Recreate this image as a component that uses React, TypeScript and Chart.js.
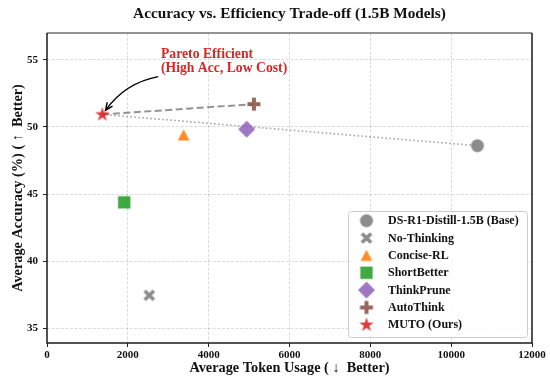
import React, { useEffect, useRef } from 'react';
import { Chart, registerables } from 'chart.js';

Chart.register(...registerables);

// ---------------- data ----------------
const methods = [
  'DS-R1-Distill-1.5B (Base)',
  'No-Thinking',
  'Concise-RL',
  'ShortBetter',
  'ThinkPrune',
  'AutoThink',
  'MUTO (Ours)',
];
const tokenUsage = [10650, 2530, 3380, 1910, 4940, 5120, 1370];
const accuracy = [48.6, 37.45, 49.4, 44.38, 49.83, 51.7, 50.93];
const markerColors = ['#808080', '#808080', '#ff7f0e', '#2ca02c', '#9467bd', '#8c564b', '#d62728'];
const markerShapes = ['circle', 'x', 'triangle', 'square', 'diamond', 'plus', 'star'];

const xTicks = [0, 2000, 4000, 6000, 8000, 10000, 12000];
const yTicks = [35, 40, 45, 50, 55];
const xRange = [0, 12000];
const yRange = [33.9, 57.0];

const paretoPath = ['MUTO (Ours)', 'AutoThink'];
const trendPath = ['MUTO (Ours)', 'DS-R1-Distill-1.5B (Base)'];

const titleText = 'Accuracy vs. Efficiency Trade-off (1.5B Models)';
const xLabel = 'Average Token Usage ( \u2193  Better)';
const yLabel = 'Average Accuracy (%) ( \u2191  Better)';
const annotationLines = ['Pareto Efficient', '(High Acc, Low Cost)'];
const annotationTextPos = [2820, 55.4]; // data coords of first line (left, middle)
const annotationLineStep = 1.05; // data units between lines
const arrowFrom = [2750, 53.75];
const arrowTo = [1450, 51.25];

const SERIF = '"Liberation Serif", "DejaVu Serif", serif';

function makeMarker(shape: string, color: string): HTMLCanvasElement {
  const c = document.createElement('canvas');
  c.width = 24;
  c.height = 24;
  const g = c.getContext('2d')!;
  g.translate(12, 12);
  g.fillStyle = color;
  g.strokeStyle = color;
  g.globalAlpha = 0.9;
  g.beginPath();
  switch (shape) {
    case 'circle':
      g.arc(0, 0, 6.5, 0, Math.PI * 2);
      g.fill();
      break;
    case 'x':
      g.lineWidth = 3.6;
      g.lineCap = 'butt';
      g.moveTo(-4.6, -4.6);
      g.lineTo(4.6, 4.6);
      g.moveTo(4.6, -4.6);
      g.lineTo(-4.6, 4.6);
      g.stroke();
      break;
    case 'triangle':
      g.moveTo(0, -5.8);
      g.lineTo(5.9, 5.6);
      g.lineTo(-5.9, 5.6);
      g.closePath();
      g.fill();
      break;
    case 'square':
      g.rect(-6.2, -6.2, 12.4, 12.4);
      g.fill();
      break;
    case 'diamond':
      g.moveTo(0, -8.5);
      g.lineTo(8.5, 0);
      g.lineTo(0, 8.5);
      g.lineTo(-8.5, 0);
      g.closePath();
      g.fill();
      break;
    case 'plus':
      g.rect(-6.5, -2, 13, 4);
      g.rect(-2, -6.5, 4, 13);
      g.fill();
      break;
    case 'star': {
      const R = 7.6;
      const r = R * 0.382;
      for (let i = 0; i < 10; i++) {
        const rad = i % 2 === 0 ? R : r;
        const a = -Math.PI / 2 + (i * Math.PI) / 5;
        const px = rad * Math.cos(a);
        const py = rad * Math.sin(a);
        if (i === 0) g.moveTo(px, py);
        else g.lineTo(px, py);
      }
      g.closePath();
      g.fill();
      break;
    }
  }
  return c;
}

function pathData(names: string[]) {
  return names.map((n) => {
    const i = methods.indexOf(n);
    return { x: tokenUsage[i], y: accuracy[i] };
  });
}

export default function App() {
  const ref = useRef<HTMLCanvasElement | null>(null);

  useEffect(() => {
    if (!ref.current) return;
    const markers = methods.map((_, i) => makeMarker(markerShapes[i], markerColors[i]));

    const decor = {
      id: 'decor',
      afterDraw(chart: any) {
        const { ctx, chartArea } = chart;
        const xs = chart.scales.x;
        const ys = chart.scales.y;
        const { left, right, top, bottom } = chartArea;
        ctx.save();

        // spines
        ctx.lineWidth = 1.5;
        ctx.strokeStyle = '#6e6e6e';
        ctx.beginPath();
        ctx.moveTo(left, top);
        ctx.lineTo(right, top);
        ctx.stroke();
        ctx.strokeStyle = '#1a1a1a';
        ctx.beginPath();
        ctx.moveTo(left, top);
        ctx.lineTo(left, bottom);
        ctx.lineTo(right, bottom);
        ctx.lineTo(right, top);
        ctx.stroke();

        // title
        ctx.fillStyle = '#111';
        ctx.textAlign = 'center';
        ctx.textBaseline = 'middle';
        ctx.font = `bold 15.3px ${SERIF}`;
        ctx.fillText(titleText, (left + right) / 2, 14);

        // axis labels
        ctx.font = `bold 14.3px ${SERIF}`;
        ctx.fillText(xLabel, (left + right) / 2, 368.5);
        ctx.save();
        ctx.translate(18, (top + bottom) / 2);
        ctx.rotate(-Math.PI / 2);
        ctx.fillText(yLabel, 0, 0);
        ctx.restore();

        // annotation text
        ctx.fillStyle = '#d62728';
        ctx.textAlign = 'left';
        ctx.font = `bold 13.7px ${SERIF}`;
        annotationLines.forEach((t, i) => {
          ctx.fillText(
            t,
            xs.getPixelForValue(annotationTextPos[0]),
            ys.getPixelForValue(annotationTextPos[1] - i * annotationLineStep)
          );
        });

        // curved arrow
        const p0x = xs.getPixelForValue(arrowFrom[0]);
        const p0y = ys.getPixelForValue(arrowFrom[1]);
        const p2x = xs.getPixelForValue(arrowTo[0]);
        const p2y = ys.getPixelForValue(arrowTo[1]);
        const dx = p2x - p0x;
        const dy = p2y - p0y;
        const rad = 0.2;
        const cx = (p0x + p2x) / 2 - rad * dy;
        const cy = (p0y + p2y) / 2 + rad * dx;
        ctx.strokeStyle = '#000';
        ctx.lineWidth = 1.5;
        ctx.beginPath();
        ctx.moveTo(p0x, p0y);
        ctx.quadraticCurveTo(cx, cy, p2x, p2y);
        ctx.stroke();
        const ang = Math.atan2(p2y - cy, p2x - cx);
        const hl = 8;
        const ha = 0.42;
        ctx.beginPath();
        ctx.moveTo(p2x - hl * Math.cos(ang - ha), p2y - hl * Math.sin(ang - ha));
        ctx.lineTo(p2x, p2y);
        ctx.lineTo(p2x - hl * Math.cos(ang + ha), p2y - hl * Math.sin(ang + ha));
        ctx.stroke();

        // legend
        const lw = 179;
        const lh = 126;
        const lx = right - 5 - lw;
        const ly = bottom - 6 - lh;
        ctx.fillStyle = 'rgba(255,255,255,0.85)';
        ctx.strokeStyle = '#cccccc';
        ctx.lineWidth = 1;
        ctx.beginPath();
        (ctx as any).roundRect(lx + 0.5, ly + 0.5, lw, lh, 3);
        ctx.fill();
        ctx.stroke();
        ctx.font = `bold 12px ${SERIF}`;
        ctx.fillStyle = '#111';
        ctx.textAlign = 'left';
        ctx.textBaseline = 'middle';
        methods.forEach((m, i) => {
          const ry = ly + 9.7 + i * 17.35;
          const mk = markers[i];
          ctx.drawImage(mk, lx + 18.5 - mk.width / 2, ry - mk.height / 2);
          ctx.fillText(m, lx + 40, ry + 0.5);
        });

        ctx.restore();
      },
    };

    const lineDs = (names: string[], color: string, dash: number[], width: number) => ({
      type: 'line',
      data: pathData(names),
      showLine: true,
      borderColor: color,
      borderWidth: width,
      borderDash: dash,
      pointRadius: 0,
      fill: false,
      order: 10,
    });

    const gridOpts = (hideEnds: boolean, range: number[]) => ({
      color: (c: any) =>
        hideEnds && c.tick && (c.tick.value === range[0] || c.tick.value === range[1])
          ? 'rgba(0,0,0,0)'
          : 'rgba(0,0,0,0.14)',
      lineWidth: 1,
      tickColor: '#222',
      tickLength: 4,
      tickBorderDash: [],
    });

    const chart = new Chart(ref.current, {
      type: 'scatter',
      data: {
        datasets: [
          lineDs(paretoPath, 'rgba(128,128,128,0.85)', [7, 3.5], 2),
          lineDs(trendPath, 'rgba(150,150,150,0.85)', [1.6, 2.4], 1.6),
          ...methods.map((m, i) => ({
            label: m,
            data: [{ x: tokenUsage[i], y: accuracy[i] }],
            pointStyle: markers[i],
            pointRadius: 8,
            order: 0,
          })),
        ] as any,
      },
      options: {
        responsive: false,
        animation: false,
        devicePixelRatio: 1,
        events: [],
        layout: { padding: { top: 33, right: 18, left: 0, bottom: 0 } },
        plugins: { legend: { display: false }, tooltip: { enabled: false }, title: { display: false } },
        scales: {
          x: {
            type: 'linear',
            min: xRange[0],
            max: xRange[1],
            afterBuildTicks: (s: any) => {
              s.ticks = xTicks.map((v) => ({ value: v }));
            },
            afterFit: (s: any) => {
              s.height = 33;
            },
            border: { display: false, dash: [3, 1.6] },
            grid: gridOpts(true, xRange) as any,
            ticks: {
              color: '#111',
              font: { family: SERIF, size: 11, weight: 'bold' },
              padding: 2,
              maxRotation: 0,
              callback: (v: any) => String(v),
            },
          },
          y: {
            type: 'linear',
            min: yRange[0],
            max: yRange[1],
            afterBuildTicks: (s: any) => {
              s.ticks = yTicks.map((v) => ({ value: v }));
            },
            afterFit: (s: any) => {
              s.width = 47;
            },
            border: { display: false, dash: [3, 1.6] },
            grid: gridOpts(false, yRange) as any,
            ticks: {
              color: '#111',
              font: { family: SERIF, size: 11, weight: 'bold' },
              padding: 5,
              callback: (v: any) => String(v),
            },
          },
        },
      } as any,
      plugins: [decor],
    });

    return () => chart.destroy();
  }, []);

  return (
    <div style={{ position: 'absolute', left: 0, top: 0, width: 550, height: 376, background: '#fff' }}>
      <canvas ref={ref} width={550} height={376} style={{ display: 'block', width: 550, height: 376 }} />
    </div>
  );
}
